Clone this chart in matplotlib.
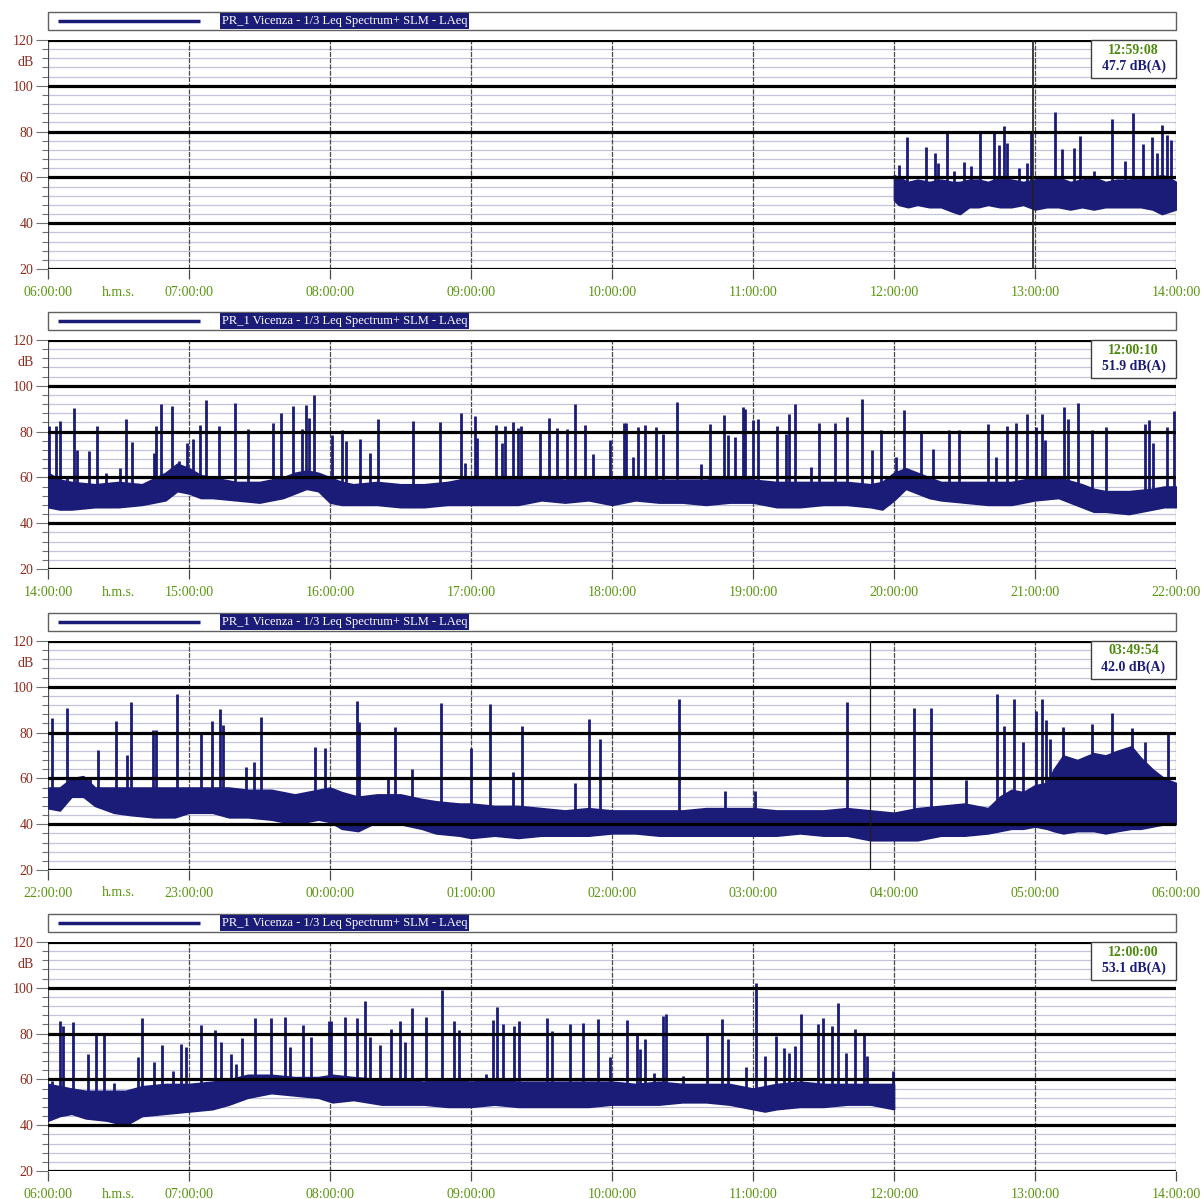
import matplotlib
matplotlib.use('Agg')
import matplotlib.pyplot as plt
import numpy as np
from matplotlib.patches import Rectangle
from matplotlib import transforms

plt.rcParams['font.family'] = ['Liberation Serif', 'DejaVu Serif']

# ---------------- data (minutes from panel start, dB) ----------------
legend_text = 'PR_1 Vicenza - 1/3 Leq Spectrum+ SLM - LAeq'

p1_hours = ['06:00:00', '07:00:00', '08:00:00', '09:00:00', '10:00:00', '11:00:00', '12:00:00', '13:00:00', '14:00:00']
p2_hours = ['14:00:00', '15:00:00', '16:00:00', '17:00:00', '18:00:00', '19:00:00', '20:00:00', '21:00:00', '22:00:00']
p3_hours = ['22:00:00', '23:00:00', '00:00:00', '01:00:00', '02:00:00', '03:00:00', '04:00:00', '05:00:00', '06:00:00']
p4_hours = ['06:00:00', '07:00:00', '08:00:00', '09:00:00', '10:00:00', '11:00:00', '12:00:00', '13:00:00', '14:00:00']

cursor_time = ['12:59:08', '12:00:10', '03:49:54', '12:00:00']
cursor_value = ['47.7 dB(A)', '51.9 dB(A)', '42.0 dB(A)', '53.1 dB(A)']
cursor_pos = [419.1, None, 349.9, None]

# panel 1 : band envelope
p1_t = [360, 362, 366, 370, 375, 380, 385, 388, 392, 396, 400, 405, 410, 415, 420, 425, 430, 435, 440, 445, 450, 455, 460, 465, 470, 474, 477, 480]
p1_lo = [50, 48, 47, 48, 47, 47, 45, 44, 47, 47, 48, 47, 47, 48, 46, 47, 47, 46, 47, 46, 47, 47, 47, 47, 46, 44, 45, 46]
p1_hi = [61, 60, 58, 59, 58, 59, 58, 58, 59, 59, 58, 60, 59, 58, 59, 60, 60, 58, 59, 60, 58, 59, 59, 60, 60, 61, 60, 58]
p1_st = [362, 365.5, 373.6, 377.4, 378.8, 382.5, 385.5, 389.8, 392.8, 396.6, 402.6, 404.7, 406.8, 408, 413, 416.6, 418.3,
         428.5, 431.5, 436.6, 439, 445, 452.8, 458.3, 461.7, 466, 469.8, 472, 474, 476, 478]
p1_sd = [65.4, 77.6, 73.3, 70.7, 66.3, 79.8, 63, 66.7, 65, 80.3, 80.3, 74, 82.4, 75, 64, 66.3, 79.4,
         88.5, 72.4, 72.8, 78, 63, 85.5, 67, 88, 74.6, 77.5, 70.6, 83, 78.5, 76.3]

# panel 2
p2_t = [0, 5, 10, 20, 30, 40, 50, 55, 60, 65, 70, 80, 90, 100, 105, 110, 115, 120, 125, 130, 140, 150, 160, 170, 180,
        190, 200, 210, 220, 230, 240, 250, 260, 270, 280, 290, 300, 310, 320, 330, 340, 350, 355, 360, 365, 370, 375,
        380, 390, 400, 410, 420, 430, 440, 445, 450, 460, 470, 475, 480]
p2_lo = [47, 46, 46, 47, 47, 48, 50, 54, 53, 51, 51, 50, 49, 51, 53, 55, 54, 49, 48, 48, 48, 47, 47, 48, 48,
         48, 48, 50, 49, 50, 48, 50, 49, 49, 48, 49, 49, 47, 47, 48, 48, 47, 46, 50, 55, 53, 51,
         50, 49, 48, 48, 50, 51, 47, 45, 45, 44, 46, 47, 47]
p2_hi = [62, 59, 58, 57, 58, 57, 62, 66, 64, 61, 60, 58, 58, 60, 62, 63, 62, 60, 58, 57, 58, 57, 57, 58, 60,
         60, 59, 60, 59, 60, 59, 60, 59, 59, 59, 60, 59, 58, 58, 58, 58, 57, 58, 62, 64, 62, 60,
         58, 58, 58, 58, 60, 60, 57, 55, 54, 54, 55, 56, 56]
p2_st = [0.5, 3.3, 4.9, 7.9, 11, 12.3, 17.5, 20.8, 24.5, 30.8, 33.2, 35.8, 45.3, 45.8, 48, 52.7, 55.6, 59.2, 61.9, 64.6,
         67.4, 72.7, 79.7, 85.1, 95.7, 99, 104.3, 108, 109.7, 111, 113.4, 120.8, 125, 126.8, 132.6, 137.2, 140.4,
         155.5, 167, 175.6, 177.6, 181.7, 182.5, 190.7, 193.1, 194.4, 198, 200, 201.3, 209.2, 213.1, 216.6, 221,
         224.2, 228.3, 232, 239, 245, 246, 248.8, 251, 254.2, 258.6, 261.9, 267.6, 277.8, 281.5, 287.6, 289.2,
         292.5, 295.7, 296.7, 300, 302.3, 310.1, 314.2, 315.4, 318, 324.8, 328.1, 335, 339.9, 346.4, 350.7, 354.3,
         360.8, 364.4, 371.4, 376.8, 383.4, 387.8, 400, 403.3, 408.2, 411.8, 416.7, 420.5, 423, 424.2, 432.4, 434,
         438.5, 444.2, 450.4, 467, 468.4, 470.3, 476, 479]
p2_sd = [82.4, 82.4, 84.6, 60.5, 90.4, 72, 71.5, 82.4, 62, 64, 85.6, 75.4, 70.7, 82.4, 91.9, 91.1, 67, 75, 76.6, 83.1,
         94, 82.4, 92.3, 81, 83.8, 88.2, 91.1, 81, 91.4, 86, 96.2, 78.7, 80.6, 75.8, 76.9, 70.7, 85.7,
         84.6, 84.1, 88.2, 66.4, 86.8, 77.3, 83.1, 75.1, 82.4, 84.1, 81.7, 82.4, 80.2, 86, 81.7, 81.2,
         91.9, 83.1, 70, 76.2, 83.8, 83.8, 69, 82, 82.8, 82, 79.1, 92.9, 66, 83.5, 87.1, 78.4,
         77.7, 90.7, 90, 84.9, 85.7, 82.3, 79.1, 87.8, 92.2, 64.6, 83.8, 83.8, 86.4, 94.3, 71.9, 80.6,
         69, 89.6, 79.9, 72.2, 80.6, 80.6, 83.5, 68.7, 82.3, 83.8, 87.5, 82, 87.8, 76.2, 90.7, 85.7,
         92.5, 80.6, 82, 83.5, 85.2, 75.1, 82, 89]

# panel 3
p3_t = [0, 5, 10, 15, 20, 28, 35, 45, 54, 60, 70, 77, 85, 95, 105, 115, 120, 125, 132, 140, 150, 159, 165, 175, 180,
        190, 200, 210, 220, 230, 240, 250, 260, 270, 280, 290, 300, 310, 320, 330, 340, 350, 360, 370, 380, 390,
        400, 405, 410, 415, 420, 425, 428, 432, 438, 445, 450, 455, 461, 465, 470, 475, 480]
p3_lo = [47, 46, 52, 52, 48, 45, 44, 43, 43, 45, 45, 43, 43, 42, 40, 42, 41, 38, 37, 41, 40, 38, 36, 35, 34,
         35, 34, 35, 35, 35, 36, 36, 35, 35, 35, 35, 35, 35, 36, 35, 35, 33, 33, 33, 35, 35,
         36, 37, 38, 38, 39, 38, 37, 36, 37, 37, 36, 37, 38, 38, 39, 40, 40]
p3_hi = [56, 56, 60, 61, 56, 56, 56, 56, 56, 56, 56, 56, 55, 55, 53, 55, 56, 54, 52, 53, 53, 51, 50, 49, 49,
         48, 48, 47, 46, 47, 46, 46, 46, 46, 47, 47, 47, 46, 46, 46, 47, 46, 45, 47, 48, 49,
         47, 52, 55, 54, 57, 58, 64, 70, 68, 71, 70, 72, 74, 69, 64, 60, 58]
p3_st = [1.6, 8.2, 18, 21.3, 28.8, 33.6, 35.5, 44.7, 45.8, 55, 65.1, 69.6, 73.3, 74.3, 84.3, 87.6, 90.8, 113.7, 117.8,
         131.6, 132.2, 144.8, 147.8, 155, 167.3, 180, 187.9, 198, 201.6, 224.2, 230, 234.9, 268.4, 288, 301, 340,
         368.7, 375.9, 390.6, 403.8, 406.9, 411.2, 414.8, 420.5, 423, 424.6, 426.5, 431.9, 444.2, 452.8, 461.3,
         466.7, 476.5]
p3_sd = [86.2, 90.6, 60.8, 72.4, 85.2, 70.2, 93.5, 81.1, 81.1, 96.7, 79.7, 85.1, 90.2, 83.3, 65.1, 67.3, 87, 73.9, 73.1,
         93.8, 84.8, 60.8, 82.6, 64, 93.1, 73.1, 92.3, 63, 82.9, 57.8, 85.8, 77, 94.8, 54.7, 54.7, 93.3,
         90.8, 90.8, 59.4, 97, 83.1, 94.5, 75.8, 89.4, 94.8, 85.3, 77.3, 82.4, 83.8, 88.5, 82.1,
         75.8, 79.2]

# panel 4
p4_t = [0, 5, 10, 16, 25, 33, 40, 50, 60, 70, 77, 85, 95, 105, 115, 121, 130, 142, 150, 160, 170, 180, 190, 200,
        210, 220, 230, 240, 250, 260, 270, 280, 290, 300, 305, 310, 320, 330, 340, 350, 360]
p4_lo = [42, 44, 45, 43, 42, 40, 44, 45, 46, 47, 49, 52, 54, 53, 52, 50, 51, 49, 49, 49, 48, 48, 49, 48,
         48, 48, 48, 49, 49, 49, 50, 50, 49, 47, 46, 47, 48, 48, 49, 49, 47]
p4_hi = [58, 57, 56, 55, 55, 55, 57, 58, 58, 59, 60, 62, 62, 61, 61, 62, 61, 60, 60, 59, 60, 59, 60, 59,
         59, 59, 59, 59, 58, 59, 58, 58, 58, 56, 57, 58, 59, 58, 58, 58, 58]
p4_st = [1.6, 5.2, 6.5, 10.6, 17, 20.5, 23.7, 28.2, 38.5, 40.1, 45, 48.3, 53.2, 56.5, 58.9, 65.1, 71.2, 73.6, 77.7, 79.9,
         82.7, 87.9, 94.9, 100.8, 103.1, 108.5, 112.1, 119.5, 120.5, 126.4, 131.3, 135, 137.2, 141.2, 146, 149.8,
         151.9, 155, 160.9, 167.8, 172.7, 174.8, 186.3, 189.5, 191, 193.5, 198.4, 200.6, 212.4, 214.4, 222, 227.5,
         234, 239, 246.4, 250.5, 252.1, 254.2, 257.8, 261.9, 263, 270.1, 280.4, 286.9, 289.2, 297.1, 301.1, 304.9,
         309.8, 313.4, 315.4, 318, 320.3, 327.8, 329.7, 333.5, 336.3, 339.6, 343.6, 347.4, 348.5, 359.5]
p4_sd = [59.5, 85.6, 83.4, 84.9, 71.1, 79.8, 79.5, 58.3, 69.6, 87, 67.5, 75, 63.8, 75.4, 74, 83.9, 81.5, 76.2, 71.1, 66.7,
         78, 87, 86.8, 87.3, 74, 83.9, 78.3, 85.6, 85.6, 87.3, 86.8, 94.3, 78.3, 75.1, 82, 85.6,
         76.2, 91.1, 87.3, 99, 85.3, 81.5, 62.4, 85.9, 91.7, 84.2, 83.4, 85.6, 86.8, 81.2, 84.2, 84.5,
         86.3, 69.6, 85.8, 79.7, 73.2, 77.5, 63, 87.7, 88.7, 61.6, 79.7, 86.5, 77.5, 65.2, 102.2, 70.3,
         79, 73.9, 71.7, 74.6, 88.4, 84.1, 87, 83.3, 93.5, 71.7, 81.9, 79.7, 70.3, 63.8]

panels = [
    (p1_hours, p1_t, p1_lo, p1_hi, p1_st, p1_sd),
    (p2_hours, p2_t, p2_lo, p2_hi, p2_st, p2_sd),
    (p3_hours, p3_t, p3_lo, p3_hi, p3_st, p3_sd),
    (p4_hours, p4_t, p4_lo, p4_hi, p4_st, p4_sd),
]

# ---------------- styling / layout ----------------
W, H = 1202, 1199
NAVY = '#1b1b78'
RED = '#8e2a1c'
GREEN = '#5a960f'
tops = [40, 340, 641, 942]
AX_L, AX_W, AX_H = 48, 1128, 229

fig = plt.figure(figsize=(W / 100, H / 100), dpi=100)
fig.patch.set_facecolor('white')

for i, (hours, t, lo, hi, st, sd) in enumerate(panels):
    top = tops[i]
    bottom = top + AX_H
    ax = fig.add_axes([AX_L / W, 1 - bottom / H, AX_W / W, AX_H / H])
    ax.set_xlim(0, 480)
    ax.set_ylim(20, 120)
    for s in ax.spines.values():
        s.set_visible(False)

    # minor horizontal grid
    for y in range(24, 120, 4):
        if y % 20:
            ax.axhline(y, color='#c3c3dc', lw=0.9, zorder=1)
    # hour vertical lines
    for h in range(0, 481, 60):
        ax.axvline(h, color='#4a4a4a', lw=0.9, zorder=2, ls=(0, (4, 1)) if h else '-')

    # data
    t = np.asarray(t, float)
    lo = np.asarray(lo, float)
    hi = np.asarray(hi, float)
    ax.fill_between(t, lo, hi, color=NAVY, lw=1.2, zorder=3)
    st = np.asarray(st, float)
    base = np.interp(st, t, (lo + hi) / 2)
    ax.vlines(st, base, sd, color=NAVY, lw=2.0, zorder=3)

    # major horizontal lines
    for y in range(20, 121, 20):
        ax.axhline(y, color='black', lw=2.3, zorder=4)

    if cursor_pos[i] is not None:
        ax.axvline(cursor_pos[i], color='#202020', lw=1.2 if i == 0 else 0.9, zorder=5)

    # ticks
    ax.set_yticks(range(20, 121, 20))
    ax.set_yticklabels([str(v) for v in range(20, 121, 20)])
    ax.set_yticks([y for y in range(24, 120, 4) if y % 20], minor=True)
    ax.tick_params(axis='y', which='major', length=8.5, width=0.8, color='#707070',
                   labelcolor=RED, labelsize=10, pad=2)
    ax.tick_params(axis='y', which='minor', length=4.5, width=0.8, color='#707070')
    ax.set_xticks(range(0, 481, 60))
    ax.set_xticklabels(hours)
    ax.tick_params(axis='x', which='major', length=7, width=0.9, color='#4a4a4a',
                   labelcolor=GREEN, labelsize=10, pad=5)

    tr = transforms.blended_transform_factory(ax.transAxes, ax.transData)
    ax.text(-14 / AX_W, 110, 'dB', transform=tr, ha='right', va='center', color=RED, fontsize=10)
    trx = transforms.blended_transform_factory(ax.transData, ax.transAxes)
    ax.text(29.8, -23 / AX_H, 'h.m.s.', transform=trx, ha='center', va='center', color=GREEN, fontsize=10)

    # cursor readout box
    bx0 = (1091 - AX_L) / AX_W
    bh = 38 / AX_H
    ax.add_patch(Rectangle((bx0, 1 - bh), 1 - bx0, bh, transform=ax.transAxes, facecolor='white',
                           edgecolor='#404040', lw=1.0, zorder=6, clip_on=False))
    cx = (bx0 + 1) / 2
    ax.text(cx, 1 - 10 / AX_H, cursor_time[i], transform=ax.transAxes, ha='center', va='center',
            color='#4f8a10', fontsize=10, fontweight='bold', zorder=7)
    ax.text(cx, 1 - 26 / AX_H, cursor_value[i], transform=ax.transAxes, ha='center', va='center',
            color=NAVY, fontsize=10, fontweight='bold', zorder=7)

    # legend strip
    lax = fig.add_axes([AX_L / W, 1 - (top - 10) / H, AX_W / W, 18 / H])
    lax.set_xlim(0, AX_W)
    lax.set_ylim(0, 18)
    lax.axis('off')
    lax.add_patch(Rectangle((0, 0), AX_W, 18, facecolor='white', edgecolor='#606060', lw=1.0, clip_on=False))
    lax.plot([10, 152], [9, 9], color=NAVY, lw=2.5, solid_capstyle='butt')
    lax.text(174, 9, legend_text, ha='left', va='center', color='white', fontsize=9,
             bbox=dict(facecolor=NAVY, edgecolor='none', pad=1.2))

fig.savefig('out.png', dpi=100, facecolor='white')
